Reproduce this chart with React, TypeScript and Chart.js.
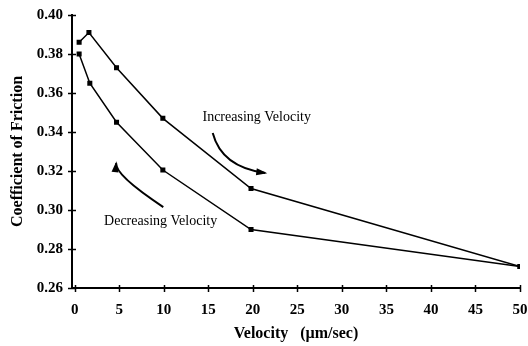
import { useEffect, useRef } from "react";
import { Chart, registerables } from "chart.js";

Chart.register(...registerables);

// Data
const incVelocity = [0.5, 1.6, 4.7, 9.9, 19.8, 50];
const incFriction = [0.386, 0.391, 0.373, 0.347, 0.311, 0.271];
const decVelocity = [0.5, 1.7, 4.7, 9.9, 19.8, 50];
const decFriction = [0.38, 0.365, 0.345, 0.3205, 0.29, 0.271];
const xTickValues = [0, 5, 10, 15, 20, 25, 30, 35, 40, 45, 50];
const yTickValues = [0.26, 0.28, 0.3, 0.32, 0.34, 0.36, 0.38, 0.4];
const incLabel = "Increasing Velocity";
const decLabel = "Decreasing Velocity";
const xTitle = "Velocity   (\u00b5m/sec)";
const yTitle = "Coefficient of Friction";

const SERIF = "'Liberation Serif', 'Times New Roman', serif";

const decorPlugin = {
  id: "decor",
  afterDraw(chart: any) {
    const { ctx, scales } = chart;
    const xs = scales.x;
    const ys = scales.y;
    const X = (v: number) => xs.getPixelForValue(v);
    const Y = (v: number) => ys.getPixelForValue(v);
    ctx.save();
    ctx.strokeStyle = "#000";
    ctx.fillStyle = "#000";
    // ticks crossing the axes
    ctx.lineWidth = 1.5;
    const axY = ys.bottom;
    const axX = xs.left;
    xTickValues.forEach((v) => {
      const px = Math.round(X(v)) + 0.5;
      ctx.beginPath();
      ctx.moveTo(px, axY - 3);
      ctx.lineTo(px, axY + 4);
      ctx.stroke();
    });
    yTickValues.forEach((v) => {
      const py = Math.round(Y(v)) + 0.5;
      ctx.beginPath();
      ctx.moveTo(axX - 4, py);
      ctx.lineTo(axX + 4, py);
      ctx.stroke();
    });

    // annotation texts
    ctx.font = "14px " + SERIF;
    ctx.textBaseline = "middle";
    ctx.textAlign = "left";
    ctx.fillText(incLabel, X(14.35), Y(0.3477));
    ctx.fillText(decLabel, X(3.3), Y(0.2944));

    // curved arrows
    const arrow = (p0: number[], c: number[], p1: number[]) => {
      const x0 = X(p0[0]), y0 = Y(p0[1]);
      const cx = X(c[0]), cy = Y(c[1]);
      const x1 = X(p1[0]), y1 = Y(p1[1]);
      ctx.lineWidth = 2;
      ctx.beginPath();
      ctx.moveTo(x0, y0);
      ctx.quadraticCurveTo(cx, cy, x1, y1);
      ctx.stroke();
      const ang = Math.atan2(y1 - cy, x1 - cx);
      const L = 9, W = 3.5;
      ctx.beginPath();
      ctx.moveTo(x1 + Math.cos(ang) * 2, y1 + Math.sin(ang) * 2);
      ctx.lineTo(x1 - Math.cos(ang) * L + Math.sin(ang) * W, y1 - Math.sin(ang) * L - Math.cos(ang) * W);
      ctx.lineTo(x1 - Math.cos(ang) * L - Math.sin(ang) * W, y1 - Math.sin(ang) * L + Math.cos(ang) * W);
      ctx.closePath();
      ctx.fill();
    };
    arrow([15.5, 0.3395], [16.5, 0.322], [21.4, 0.319]);
    arrow([9.95, 0.3015], [4.49, 0.318], [4.66, 0.324]);
    ctx.restore();
  },
};

export default function App() {
  const ref = useRef<HTMLCanvasElement | null>(null);
  useEffect(() => {
    if (!ref.current) return;
    const chart = new Chart(ref.current, {
      type: "scatter",
      data: {
        datasets: [
          {
            label: incLabel,
            data: incVelocity.map((x, i) => ({ x, y: incFriction[i] })),
            showLine: true,
            borderColor: "#000",
            backgroundColor: "#000",
            borderWidth: 1.5,
            pointStyle: "rect",
            pointRadius: 2.5,
            tension: 0,
          },
          {
            label: decLabel,
            data: decVelocity.map((x, i) => ({ x, y: decFriction[i] })),
            showLine: true,
            borderColor: "#000",
            backgroundColor: "#000",
            borderWidth: 1.5,
            pointStyle: "rect",
            pointRadius: 2.5,
            tension: 0,
          },
        ],
      },
      options: {
        animation: false,
        responsive: false,
        devicePixelRatio: 1,
        layout: { padding: { top: 15, right: 0, left: 0, bottom: 0 } },
        plugins: { legend: { display: false }, tooltip: { enabled: false } },
        scales: {
          x: {
            type: "linear",
            min: -0.3,
            max: 50,
            afterBuildTicks: (s: any) => {
              s.ticks = xTickValues.map((v) => ({ value: v }));
            },
            afterFit: (s: any) => {
              s.height = 58;
              s.paddingRight = 8;
              s.paddingLeft = 0;
            },
            grid: { display: false, drawTicks: false },
            border: { display: true, color: "#000", width: 2 },
            ticks: {
              color: "#000",
              padding: 13,
              maxRotation: 0,
              autoSkip: false,
              font: { family: SERIF, size: 15, weight: "bold" },
            },
            title: {
              display: true,
              text: xTitle,
              color: "#000",
              padding: 3,
              font: { family: SERIF, size: 16, weight: "bold" },
            },
          },
          y: {
            type: "linear",
            min: 0.26,
            max: 0.4,
            afterBuildTicks: (s: any) => {
              s.ticks = yTickValues.map((v) => ({ value: v }));
            },
            afterFit: (s: any) => {
              s.width = 72;
              s.paddingTop = 0;
              s.paddingBottom = 0;
            },
            grid: { display: false, drawTicks: false },
            border: { display: true, color: "#000", width: 2 },
            ticks: {
              color: "#000",
              padding: 9,
              autoSkip: false,
              callback: (v: any) => Number(v).toFixed(2),
              font: { family: SERIF, size: 15, weight: "bold" },
            },
            title: {
              display: true,
              text: yTitle,
              color: "#000",
              padding: 8,
              font: { family: SERIF, size: 16, weight: "bold" },
            },
          },
        },
      },
      plugins: [decorPlugin],
    });
    return () => chart.destroy();
  }, []);
  return (
    <div style={{ position: "absolute", left: 0, top: 0, width: 528, height: 346, background: "#fff" }}>
      <canvas ref={ref} width={528} height={346} />
    </div>
  );
}
